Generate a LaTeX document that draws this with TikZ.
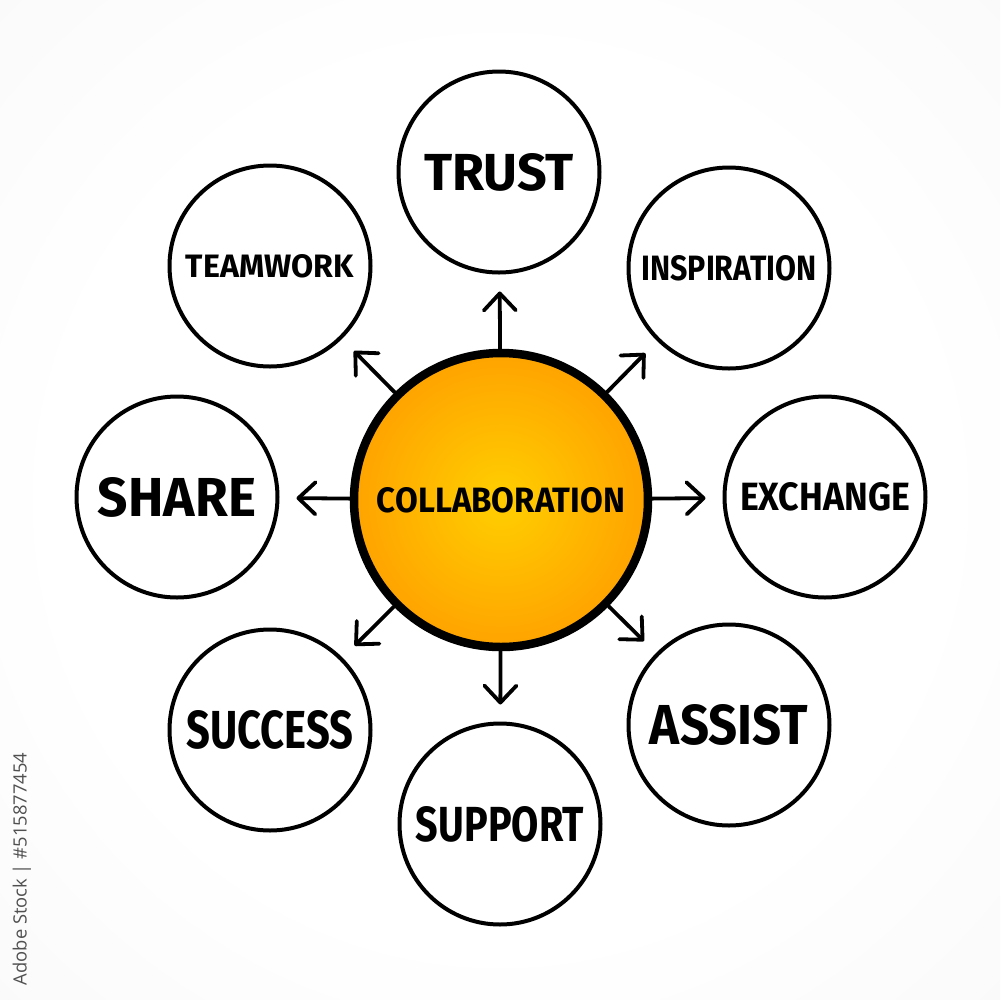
\documentclass[tikz,border=0pt]{standalone}
\usepackage{fontspec}
\setmainfont{Fira Sans}
\newfontfamily\wmfont{Open Sans}
\usepackage{graphicx}
\usetikzlibrary{arrows.meta}
\definecolor{cyel}{RGB}{255,202,0}
\definecolor{cmid}{RGB}{255,165,0}
\definecolor{corg}{RGB}{255,140,0}
\definecolor{bgmid}{RGB}{245,245,245}
\definecolor{bgedge}{RGB}{234,234,234}
\definecolor{wmgray}{RGB}{80,80,80}
\pgfdeclareradialshading{vignette}{\pgfpoint{0bp}{0bp}}{color(0bp)=(white); color(22bp)=(white); color(50bp)=(bgmid); color(71bp)=(bgedge)}
\pgfdeclareradialshading{sunball}{\pgfpoint{0bp}{0bp}}{color(0bp)=(cyel); color(3bp)=(cyel); color(24bp)=(cmid); color(50bp)=(corg)}
\newcommand\lbl[3]{\resizebox{#1}{#2}{\bfseries #3}}
\begin{document}
\begin{tikzpicture}[x=0.1mm,y=-0.1mm,
  leaf/.style={circle, draw=black, line width=0.4mm, minimum size=20.1mm, inner sep=0pt},
  hub/.style={circle, draw=black, line width=0.85mm, shade, shading=sunball, minimum size=29.4mm, inner sep=0pt},
  link/.style={line width=0.38mm, line cap=round, line join=round,
    -{Straight Barb[length=1.7mm,width=3.2mm,round]}, shorten >=1.7mm}]
\useasboundingbox (0,0) rectangle (1000,1000);
\shade[shading=vignette] (0,0) rectangle (1000,1000);

\node[hub] (hub) at (501,500) {\lbl{24.8mm}{2.5mm}{COLLABORATION}};

\node[leaf] (trust) at (499,172) {\lbl{15mm}{3.7mm}{TRUST}};
\node[leaf] (insp) at (729,268) {\lbl{17.5mm}{2.5mm}{INSPIRATION}};
\node[leaf] (exch) at (825,497) {\lbl{17mm}{2.8mm}{EXCHANGE}};
\node[leaf] (assist) at (729,725) {\lbl{15.8mm}{4mm}{ASSIST}};
\node[leaf] (support) at (500,824) {\lbl{16.8mm}{3.5mm}{SUPPORT}};
\node[leaf] (success) at (270,730) {\lbl{16.7mm}{3.8mm}{SUCCESS}};
\node[leaf] (share) at (177,497) {\lbl{15.8mm}{3.9mm}{SHARE}};
\node[leaf] (team) at (270,266) {\lbl{16.8mm}{2.3mm}{TEAMWORK}};

\foreach \t in {trust,insp,exch,assist,support,success,share,team}
  \draw[link] (hub) -- (\t);

\node[rotate=90, text=wmgray, inner sep=0pt] (stock) at (22,869)
  {\resizebox{23.2mm}{!}{\wmfont Adobe Stock | \#515877454}};
\end{tikzpicture}
\end{document}
